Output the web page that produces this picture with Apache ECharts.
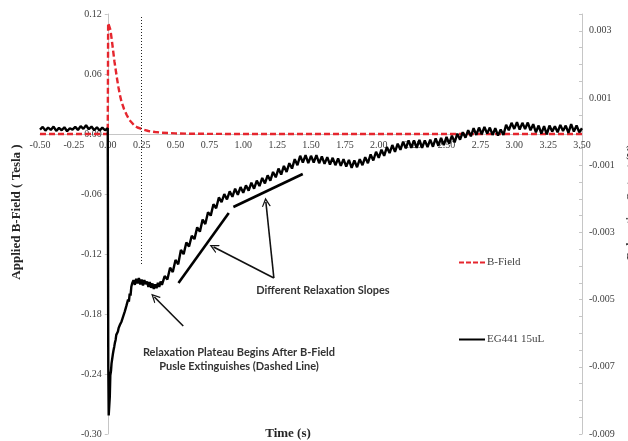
<!DOCTYPE html>
<html>
<head>
<meta charset="utf-8">
<script src="https://cdn.jsdelivr.net/npm/echarts@6/dist/echarts.min.js"></script>
<style>
    html, body { margin: 0; padding: 0; background: #fff; }
    #chart { width: 628px; height: 441px; }
</style>
</head>
<body>
<div id="chart"></div>
<script>
// B-Field pulse (Tesla, left axis) : [time s, value]
const bField = [
    [-0.5, 0], [-0.25, 0], [0, 0], [0.003, 0.111], [0.01, 0.109], [0.02, 0.104], [0.03, 0.094],
    [0.04, 0.083], [0.05, 0.072], [0.06, 0.063], [0.07, 0.054], [0.08, 0.046], [0.09, 0.039],
    [0.10, 0.033], [0.12, 0.025], [0.14, 0.019], [0.16, 0.014], [0.18, 0.011], [0.20, 0.008],
    [0.22, 0.0065], [0.25, 0.005], [0.30, 0.003], [0.35, 0.002], [0.40, 0.0013], [0.50, 0.0006],
    [0.60, 0.0003], [0.80, 0.0001], [1.00, 0], [2.00, 0], [3.00, 0], [3.50, 0]
];

// EG441 15uL relaxation output (V, right axis) : [time s, value]
const relaxOutput = [
    [-0.50, 0.00006], [-0.48, 0.00014], [-0.46, 0.00003], [-0.44, 0.00012], [-0.42, 0.00005],
    [-0.40, 0.00015], [-0.38, 0.00002], [-0.36, 0.00011], [-0.34, 0.00004], [-0.32, 0.00013],
    [-0.30, 0.00001], [-0.28, 0.00010], [-0.26, 0.00006], [-0.24, 0.00014], [-0.22, 0.00005],
    [-0.20, 0.00016], [-0.18, 0.00008], [-0.16, 0.00019], [-0.14, 0.00007], [-0.12, 0.00015],
    [-0.10, 0.00004], [-0.08, 0.00013], [-0.06, 0.00003], [-0.04, 0.00012], [-0.02, 0.00004],
    [0.000, 0.00010], [0.004, -0.00700], [0.007, -0.00845], [0.011, -0.00850], [0.015, -0.00790],
    [0.019, -0.00725], [0.024, -0.00712], [0.028, -0.00690], [0.033, -0.00685], [0.038, -0.00662],
    [0.043, -0.00650], [0.048, -0.00640], [0.053, -0.00628], [0.058, -0.00620], [0.063, -0.00605],
    [0.068, -0.00600], [0.075, -0.00595], [0.080, -0.00585], [0.085, -0.00588], [0.090, -0.00575],
    [0.096, -0.00580], [0.102, -0.00565], [0.108, -0.00568], [0.114, -0.00550], [0.120, -0.00555],
    [0.126, -0.00535], [0.132, -0.00540], [0.138, -0.00518], [0.144, -0.00522], [0.150, -0.00500],
    [0.156, -0.00506], [0.162, -0.00482], [0.168, -0.00488], [0.174, -0.00462], [0.180, -0.00452],
    [0.19, -0.00442], [0.20, -0.00456], [0.21, -0.00438], [0.22, -0.00452], [0.23, -0.00436],
    [0.24, -0.00455], [0.25, -0.00440], [0.26, -0.00458], [0.27, -0.00442], [0.28, -0.00454],
    [0.29, -0.00446], [0.30, -0.00462], [0.31, -0.00448], [0.32, -0.00465], [0.33, -0.00452],
    [0.34, -0.00468], [0.35, -0.00455], [0.36, -0.00466], [0.37, -0.00450], [0.38, -0.00462],
    [0.39, -0.00446], [0.40, -0.00456], [0.42, -0.00430], [0.44, -0.00440], [0.46, -0.00405],
    [0.48, -0.00418], [0.50, -0.00382], [0.52, -0.00395], [0.54, -0.00352], [0.56, -0.00365],
    [0.58, -0.00330], [0.60, -0.00342], [0.62, -0.00310], [0.64, -0.00320], [0.66, -0.00285],
    [0.68, -0.00298], [0.70, -0.00262], [0.72, -0.00275], [0.74, -0.00240], [0.76, -0.00250],
    [0.78, -0.00216], [0.80, -0.00228], [0.82, -0.00196], [0.84, -0.00210], [0.86, -0.00186],
    [0.88, -0.00202], [0.90, -0.00178], [0.92, -0.00194], [0.94, -0.00170], [0.96, -0.00188],
    [0.98, -0.00165], [1.00, -0.00182], [1.02, -0.00160], [1.04, -0.00176], [1.06, -0.00152],
    [1.08, -0.00170], [1.10, -0.00146], [1.12, -0.00162], [1.14, -0.00138], [1.16, -0.00154],
    [1.18, -0.00130], [1.20, -0.00146], [1.22, -0.00120], [1.24, -0.00136], [1.26, -0.00110],
    [1.28, -0.00128], [1.30, -0.00102], [1.32, -0.00120], [1.34, -0.00094], [1.36, -0.00110],
    [1.38, -0.00082], [1.40, -0.00100], [1.42, -0.00072], [1.44, -0.00092], [1.46, -0.00070],
    [1.48, -0.00094], [1.50, -0.00072], [1.52, -0.00092], [1.54, -0.00070], [1.56, -0.00094],
    [1.58, -0.00074], [1.60, -0.00096], [1.62, -0.00076], [1.64, -0.00098], [1.66, -0.00078],
    [1.68, -0.00100], [1.70, -0.00080], [1.72, -0.00102], [1.74, -0.00082], [1.76, -0.00104],
    [1.78, -0.00084], [1.80, -0.00108], [1.82, -0.00086], [1.84, -0.00106], [1.86, -0.00082],
    [1.88, -0.00100], [1.90, -0.00076], [1.92, -0.00094], [1.94, -0.00068], [1.96, -0.00086],
    [1.98, -0.00060], [2.00, -0.00078], [2.02, -0.00054], [2.04, -0.00072], [2.06, -0.00046],
    [2.08, -0.00064], [2.10, -0.00040], [2.12, -0.00060], [2.14, -0.00036], [2.16, -0.00054],
    [2.18, -0.00030], [2.20, -0.00050], [2.22, -0.00026], [2.24, -0.00048], [2.26, -0.00026],
    [2.28, -0.00048], [2.30, -0.00025], [2.32, -0.00048], [2.34, -0.00026], [2.36, -0.00046],
    [2.38, -0.00024], [2.40, -0.00045], [2.42, -0.00020], [2.44, -0.00042], [2.46, -0.00019],
    [2.48, -0.00040], [2.50, -0.00016], [2.52, -0.00036], [2.54, -0.00012], [2.56, -0.00032],
    [2.58, -0.00006], [2.60, -0.00024], [2.62, -0.00002], [2.64, -0.00018], [2.66, 0.00004],
    [2.68, -0.00014], [2.70, 0.00010], [2.72, -0.00010], [2.74, 0.00012], [2.76, -0.00008],
    [2.78, 0.00014], [2.80, -0.00006], [2.82, 0.00012], [2.84, -0.00010], [2.86, 0.00010],
    [2.88, -0.00012], [2.90, 0.00006], [2.92, -0.00010], [2.94, 0.00020], [2.96, 0.00004],
    [2.98, 0.00026], [3.00, 0.00008], [3.02, 0.00028], [3.04, 0.00006], [3.06, 0.00026],
    [3.08, 0.00008], [3.10, 0.00027], [3.12, 0.00004], [3.14, 0.00022], [3.16, -0.00002],
    [3.18, 0.00018], [3.20, -0.00006], [3.22, 0.00016], [3.24, -0.00008], [3.26, 0.00018],
    [3.28, 0.00000], [3.30, 0.00016], [3.32, -0.00002], [3.34, 0.00020], [3.36, 0.00002],
    [3.38, 0.00018], [3.40, -0.00004], [3.42, 0.00022], [3.44, 0.00000], [3.46, 0.00018],
    [3.48, -0.00002], [3.50, 0.00010]
];

// annotation segments, in (time s, Tesla) units of the left axis
const pulseEndLine = [[0.25, 0.117], [0.25, -0.131]];
const slopeLines = [
    [[0.522, -0.149], [0.893, -0.079]],
    [[0.927, -0.073], [1.439, -0.040]]
];
const arrows = [
    [[1.226, -0.144], [0.781, -0.113]],
    [[1.226, -0.144], [1.167, -0.068]],
    [[0.557, -0.192], [0.344, -0.163]]
];

const serif = '"Liberation Serif", "Times New Roman", serif';
const sans = 'Lato, "Liberation Sans", sans-serif';
const axisGray = '#c6c6c6';
const openArrow = 'path://M0,10 L5,0 L10,10 L8.6,10 L5,3.2 L1.4,10 Z';
const dashIcon = 'path://M0,0 h5 v2 h-5 z M7,0 h5 v2 h-5 z M14,0 h5 v2 h-5 z M21,0 h5 v2 h-5 z';
const solidIcon = 'path://M0,0 h26 v2 h-26 z';

// grid box, the axes cross at time 0 / field 0
const gridL = 40, gridR = 46, gridT = 14, gridB = 7;
const plotW = 628 - gridL - gridR, plotH = 441 - gridT - gridB;
const zeroX = plotW * 0.5 / 4;            // time -0.5 .. 3.5
const zeroY = plotH * 0.3 / 0.42;         // field -0.30 .. 0.12 (distance from bottom)

let markLines = [];
markLines.push([
    { coord: pulseEndLine[0], symbol: 'none', lineStyle: { color: '#222', width: 1, type: [1, 2] } },
    { coord: pulseEndLine[1], symbol: 'none' }
]);
slopeLines.forEach(s => markLines.push([
    { coord: s[0], symbol: 'none', lineStyle: { color: '#000', width: 2.6, type: 'solid' } },
    { coord: s[1], symbol: 'none' }
]));
arrows.forEach(a => markLines.push([
    { coord: a[0], symbol: 'none', lineStyle: { color: '#111', width: 1.6, type: 'solid' } },
    { coord: a[1], symbol: openArrow, symbolSize: [9, 9] }
]));

let chart = echarts.init(document.getElementById('chart'), null, { renderer: 'canvas' });
chart.setOption({
    animation: false,
    backgroundColor: '#fff',
    grid: { left: gridL, right: gridR, top: gridT, bottom: gridB, outerBoundsMode: 'none', containLabel: false },
    legend: [
        {
            data: ['B-Field'], left: 454, top: 252, itemWidth: 26, itemHeight: 2, icon: dashIcon,
            textStyle: { fontFamily: serif, fontSize: 11, color: '#404040', padding: [0, 0, 0, -3] }
        },
        {
            data: ['EG441 15uL'], left: 454, top: 329, itemWidth: 26, itemHeight: 2, icon: solidIcon,
            textStyle: { fontFamily: serif, fontSize: 11, color: '#404040', padding: [0, 0, 0, -3] }
        }
    ],
    xAxis: {
        type: 'value', min: -0.5, max: 3.5, interval: 0.25,
        position: 'bottom', offset: -zeroY,
        axisLine: { onZero: false, lineStyle: { color: axisGray, width: 1 } },
        axisTick: { show: false },
        splitLine: { show: false },
        axisLabel: {
            margin: 6, fontFamily: serif, fontSize: 10, color: '#404040',
            formatter: v => v.toFixed(2)
        }
    },
    yAxis: [
        {
            type: 'value', min: -0.3, max: 0.12, interval: 0.06,
            position: 'left', offset: -zeroX,
            axisLine: { show: true, onZero: false, lineStyle: { color: axisGray, width: 1 } },
            axisTick: { show: true, length: 3, lineStyle: { color: axisGray } },
            splitLine: { show: false },
            axisLabel: {
                margin: 6, fontFamily: serif, fontSize: 10, color: '#404040',
                formatter: v => v.toFixed(2)
            }
        },
        {
            type: 'value', position: 'right', min: -0.009, max: 0.0035, interval: 0.0005,
            axisLine: { show: true, onZero: false, lineStyle: { color: axisGray, width: 1 } },
            axisTick: { show: true, length: 3, inside: true, lineStyle: { color: axisGray } },
            splitLine: { show: false },
            axisLabel: {
                margin: 7, fontFamily: serif, fontSize: 10, color: '#404040',
                formatter: v => {
                    let k = Math.abs(Math.round(v * 2000));
                    return k % 4 === 2 ? v.toFixed(3) : '';
                }
            }
        }
    ],
    series: [
        {
            name: 'B-Field', type: 'line', yAxisIndex: 0, data: bField,
            symbol: 'none', smooth: false,
            lineStyle: { color: '#e5262e', width: 2.4, type: [6, 3] },
            itemStyle: { color: '#e5262e' }
        },
        {
            name: 'EG441 15uL', type: 'line', yAxisIndex: 1, data: relaxOutput,
            symbol: 'none',
            lineStyle: { color: '#000', width: 2.4 },
            itemStyle: { color: '#000' }
        },
        {
            name: 'notes', type: 'line', yAxisIndex: 0, data: [],
            markLine: {
                silent: true, animation: false, precision: 4,
                label: { show: false },
                emphasis: { disabled: true },
                data: markLines
            }
        }
    ],
    graphic: [
        {
            type: 'text', x: 17, y: 212, rotation: Math.PI / 2,
            style: { text: 'Applied B-Field ( Tesla )', font: 'bold 13px ' + serif, fill: '#262626', align: 'center', verticalAlign: 'middle' }
        },
        {
            // right axis title, cut by the right edge as in the source
            type: 'text', x: 632, y: 202, rotation: Math.PI / 2,
            style: { text: 'Relaxation Output (V)', font: 'bold 12px ' + serif, fill: '#404040', align: 'center', verticalAlign: 'middle' }
        },
        {
            type: 'text', x: 288, y: 434,
            style: { text: 'Time (s)', font: 'bold 13px ' + serif, fill: '#262626', align: 'center', verticalAlign: 'middle' }
        },
        {
            type: 'text', x: 323, y: 290,
            style: { text: 'Different Relaxation Slopes', font: 'bold 11px ' + sans, fill: '#333', align: 'center', verticalAlign: 'middle' }
        },
        {
            type: 'text', x: 239, y: 352,
            style: { text: 'Relaxation Plateau Begins After B-Field', font: 'bold 11px ' + sans, fill: '#333', align: 'center', verticalAlign: 'middle' }
        },
        {
            type: 'text', x: 239, y: 366,
            style: { text: 'Pusle Extinguishes (Dashed Line)', font: 'bold 11px ' + sans, fill: '#333', align: 'center', verticalAlign: 'middle' }
        }
    ]
});
window.addEventListener('resize', function () {
    chart.resize();
});
</script>
</body>
</html>
